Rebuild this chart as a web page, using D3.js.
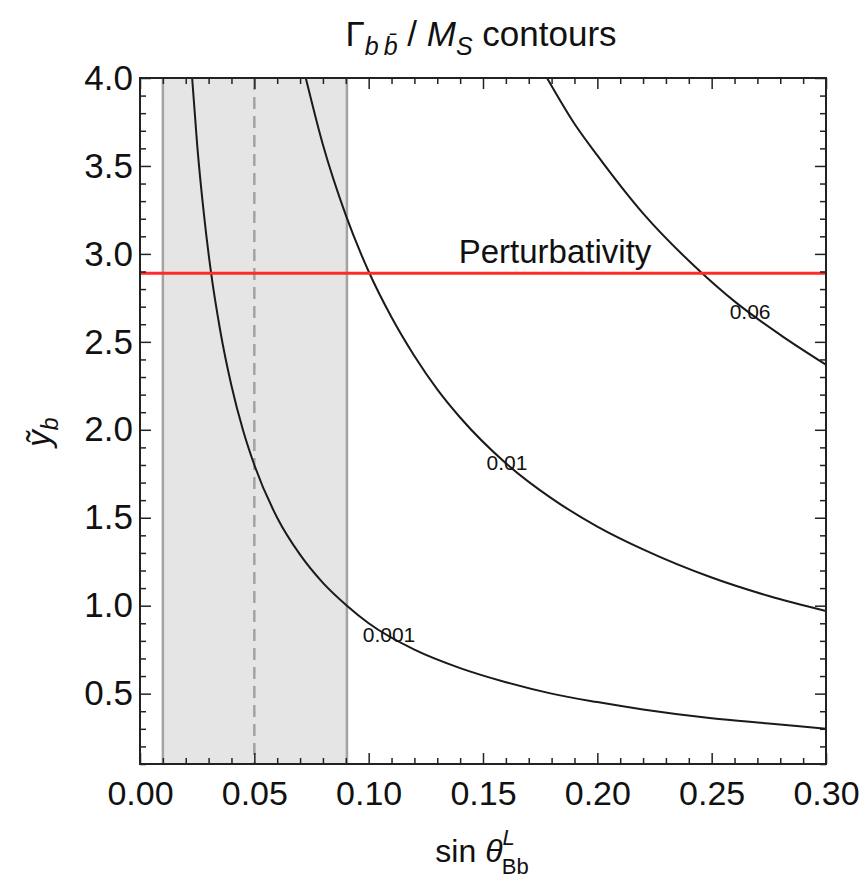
<!DOCTYPE html>
<html lang="en">
<head>
<meta charset="UTF-8">
<title>Gamma bb / MS contours</title>
<script src="https://d3js.org/d3.v7.min.js"></script>
<style>
    body { margin: 0; background: #fff; }
    svg text { font-family: "Liberation Sans", Arial, sans-serif; fill: #111; }
</style>
</head>
<body>
<svg width="864" height="878"></svg>
<script>
// axis ranges and ticks
var xDomain = [0, 0.30];
var yDomain = [0.1, 4.0];
var xMajor = [0, 0.05, 0.10, 0.15, 0.20, 0.25, 0.30];
var xLabels = ["0.00", "0.05", "0.10", "0.15", "0.20", "0.25", "0.30"];
var yMajor = [0.5, 1.0, 1.5, 2.0, 2.5, 3.0, 3.5, 4.0];
var yLabels = ["0.5", "1.0", "1.5", "2.0", "2.5", "3.0", "3.5", "4.0"];
var xMinor = d3.range(0, 31).map(d => d / 100);
var yMinor = d3.range(1, 41).map(d => d / 10);

// excluded band and perturbativity bound
var bandLo = 0.01, bandHi = 0.0905, bandMid = 0.05;
var perturbativity = 2.89;

// contour lines [sin theta, y_b]
var contour001 = [[0.0228, 4.0], [0.025, 3.62], [0.028, 3.22], [0.031, 2.9], [0.035, 2.57], [0.04, 2.25],
    [0.045, 2.0], [0.05, 1.8], [0.06, 1.5], [0.07, 1.29], [0.08, 1.13], [0.0905, 1.0], [0.10, 0.9],
    [0.12, 0.75], [0.14, 0.645], [0.16, 0.565], [0.18, 0.5], [0.20, 0.452], [0.22, 0.41], [0.25, 0.36],
    [0.275, 0.33], [0.30, 0.30]];
var contour01 = [[0.0725, 4.0], [0.08, 3.62], [0.09, 3.22], [0.10, 2.9], [0.11, 2.64], [0.12, 2.42],
    [0.13, 2.23], [0.14, 2.07], [0.16, 1.81], [0.18, 1.61], [0.20, 1.45], [0.22, 1.32], [0.25, 1.16],
    [0.275, 1.055], [0.30, 0.97]];
var contour06 = [[0.178, 4.0], [0.19, 3.74], [0.20, 3.56], [0.22, 3.23], [0.245, 2.9], [0.26, 2.73],
    [0.28, 2.54], [0.30, 2.37]];
var contourNames = ["0.001", "0.01", "0.06"];
var contourLabelAt = [[0.1089, 0.833], [0.1605, 1.811], [0.2668, 2.67]];

var margin = { top: 78, left: 140 },
    width = 686,
    height = 686;

var svg = d3.select("svg");
var g = svg.append("g").attr("transform", "translate(" + margin.left + "," + margin.top + ")");

var x = d3.scaleLinear().domain(xDomain).range([0, width]);
var y = d3.scaleLinear().domain(yDomain).range([height, 0]);

g.append("clipPath").attr("id", "plot-clip")
    .append("rect").attr("width", width).attr("height", height);

// gray band
g.append("rect")
    .attr("x", x(bandLo)).attr("y", 0)
    .attr("width", x(bandHi) - x(bandLo)).attr("height", height)
    .attr("fill", "#e5e5e5");

[bandLo, bandHi].forEach(function(v) {
    g.append("line")
        .attr("x1", x(v)).attr("x2", x(v)).attr("y1", 0).attr("y2", height)
        .attr("stroke", "#a3a3a3").attr("stroke-width", 2.5);
});
g.append("line")
    .attr("x1", x(bandMid)).attr("x2", x(bandMid)).attr("y1", 0).attr("y2", height)
    .attr("stroke", "#a3a3a3").attr("stroke-width", 2.5)
    .attr("stroke-dasharray", "12,7");

// contours
var line = d3.line().x(d => x(d[0])).y(d => y(d[1])).curve(d3.curveMonotoneX);
var curves = g.append("g").attr("clip-path", "url(#plot-clip)");
[contour001, contour01, contour06].forEach(function(c) {
    curves.append("path")
        .datum(c)
        .attr("d", line)
        .attr("fill", "none")
        .attr("stroke", "#1a1a1a")
        .attr("stroke-width", 2);
});

g.selectAll(".clabel")
    .data(contourNames)
    .enter().append("text")
    .attr("class", "clabel")
    .attr("x", (d, i) => x(contourLabelAt[i][0]))
    .attr("y", (d, i) => y(contourLabelAt[i][1]))
    .attr("text-anchor", "middle")
    .attr("dy", "0.35em")
    .style("font-size", "21px")
    .text(d => d);

// perturbativity line
g.append("line")
    .attr("x1", 0).attr("x2", width)
    .attr("y1", y(perturbativity)).attr("y2", y(perturbativity))
    .attr("stroke", "#ff2a2a").attr("stroke-width", 3);
g.append("text")
    .attr("x", x(0.1815)).attr("y", y(perturbativity) - 10)
    .attr("text-anchor", "middle")
    .style("font-size", "33px")
    .text("Perturbativity");

// frame ticks (inward, all four sides)
function addAxis(axis, tf, cls) {
    var a = g.append("g").attr("transform", tf).call(axis);
    a.select(".domain").remove();
    a.selectAll("line").attr("stroke", "#222").attr("stroke-width", 1.5);
    a.attr("class", cls);
    return a;
}
var xMin = xMinor.filter(v => !xMajor.some(m => Math.abs(m - v) < 1e-9));
var yMin = yMinor.filter(v => !yMajor.some(m => Math.abs(m - v) < 1e-9));

var bx = addAxis(d3.axisBottom(x).tickValues(xMajor).tickSize(-11).tickPadding(17)
    .tickFormat((d, i) => xLabels[i]), "translate(0," + height + ")", "xaxis");
bx.selectAll("text").style("font-size", "34px").attr("fill", "#111");
addAxis(d3.axisBottom(x).tickValues(xMin).tickSize(-6).tickFormat(""), "translate(0," + height + ")", "xminor");
addAxis(d3.axisTop(x).tickValues(xMajor).tickSize(-11).tickFormat(""), "translate(0,0)", "xtop");
addAxis(d3.axisTop(x).tickValues(xMin).tickSize(-6).tickFormat(""), "translate(0,0)", "xtopminor");

var ly = addAxis(d3.axisLeft(y).tickValues(yMajor).tickSize(-11).tickPadding(7)
    .tickFormat((d, i) => yLabels[i]), "translate(0,0)", "yaxis");
ly.selectAll("text").style("font-size", "35px").attr("fill", "#111");
addAxis(d3.axisLeft(y).tickValues(yMin).tickSize(-6).tickFormat(""), "translate(0,0)", "yminor");
addAxis(d3.axisRight(y).tickValues(yMajor).tickSize(-11).tickFormat(""), "translate(" + width + ",0)", "yright");
addAxis(d3.axisRight(y).tickValues(yMin).tickSize(-6).tickFormat(""), "translate(" + width + ",0)", "yrightminor");

// frame
g.append("rect")
    .attr("width", width).attr("height", height)
    .attr("fill", "none").attr("stroke", "#222").attr("stroke-width", 2);

// title
var title = svg.append("text")
    .attr("x", 481).attr("y", 46)
    .attr("text-anchor", "middle")
    .style("font-size", "35px");
title.append("tspan").text("\u0393");
title.append("tspan").attr("dy", 9).style("font-size", "25px").style("font-style", "italic").text("b\u2009b\u0304");
title.append("tspan").attr("dy", -9).text(" / ");
title.append("tspan").style("font-style", "italic").text("M");
title.append("tspan").attr("dy", 9).style("font-size", "25px").style("font-style", "italic").text("S");
title.append("tspan").attr("dy", -9).text(" contours");

// x label
var xl = svg.append("text")
    .attr("x", 482).attr("y", 862)
    .attr("text-anchor", "middle")
    .style("font-size", "32px");
xl.append("tspan").text("sin ");
xl.append("tspan").style("font-style", "italic").text("\u03B8");
xl.append("tspan").attr("dy", -17).style("font-size", "22px").style("font-style", "italic").text("L");
xl.append("tspan").attr("dx", -13).attr("dy", 29).style("font-size", "22px").text("Bb");

// y label
var yl = svg.append("text")
    .attr("transform", "translate(50,432) rotate(-90)")
    .attr("text-anchor", "middle")
    .style("font-size", "33px");
yl.append("tspan").style("font-style", "italic").text("y\u0303");
yl.append("tspan").attr("dy", 8).style("font-size", "23px").style("font-style", "italic").text("b");
</script>
</body>
</html>
